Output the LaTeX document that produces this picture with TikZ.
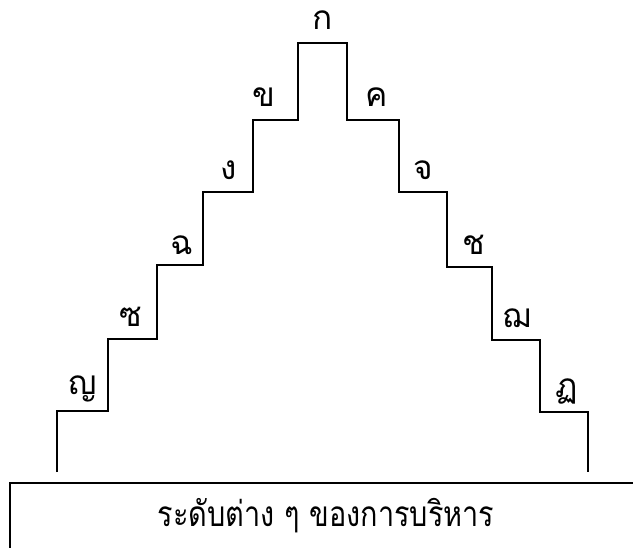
\documentclass[tikz,border=0pt]{standalone}
\usepackage{fontspec}
\newfontfamily\thaifont[Script=Thai]{Loma}
\usetikzlibrary{positioning}

\begin{document}
\begin{tikzpicture}[x=0.02cm,y=-0.02cm,
      stair/.style={line width=1.1pt,line join=miter},
      level/.style={font=\thaifont\fontsize{19}{19}\selectfont,inner sep=1pt},
      caption/.style={font=\thaifont\fontsize{20}{20}\selectfont,inner sep=2pt},
    ]
    \useasboundingbox (0,0) rectangle (633,548);

    % staircase
    \draw[stair] (57,472) -- (57,411) -- (108,411) -- (108,339) -- (157,339)
      -- (157,265) -- (203,265) -- (203,192) -- (253,192) -- (253,120)
      -- (298,120) -- (298,43) -- (347,43) -- (347,120) -- (399,120)
      -- (399,192) -- (447,192) -- (447,267) -- (492,267) -- (492,340)
      -- (540,340) -- (540,412) -- (588,412) -- (588,472);

    \node[level] (top) at (323,20)  {ก};
    \node[level] (l1)  at (264,97)  {ข};
    \node[level] (r1)  at (377,97)  {ค};
    \node[level] (l2)  at (229,170) {ง};
    \node[level] (r2)  at (423,170) {จ};
    \node[level] (l3)  at (182,245) {ฉ};
    \node[level] (r3)  at (474,245) {ช};
    \node[level] (l4)  at (131,317) {ซ};
    \node[level] (r4)  at (517,318) {ฌ};
    \node[level] (l5)  at (83,389)  {ญ};
    \node[level] (r5)  at (567,391) {ฏ};

    % base box
    \draw[stair] (10,548) -- (10,483) -- (633,483);
    \node[caption] (base) at (326,516) {\scalebox{0.82}[1]{ระดับต่าง ๆ ของการบริหาร}};

  \end{tikzpicture}
\end{document}
